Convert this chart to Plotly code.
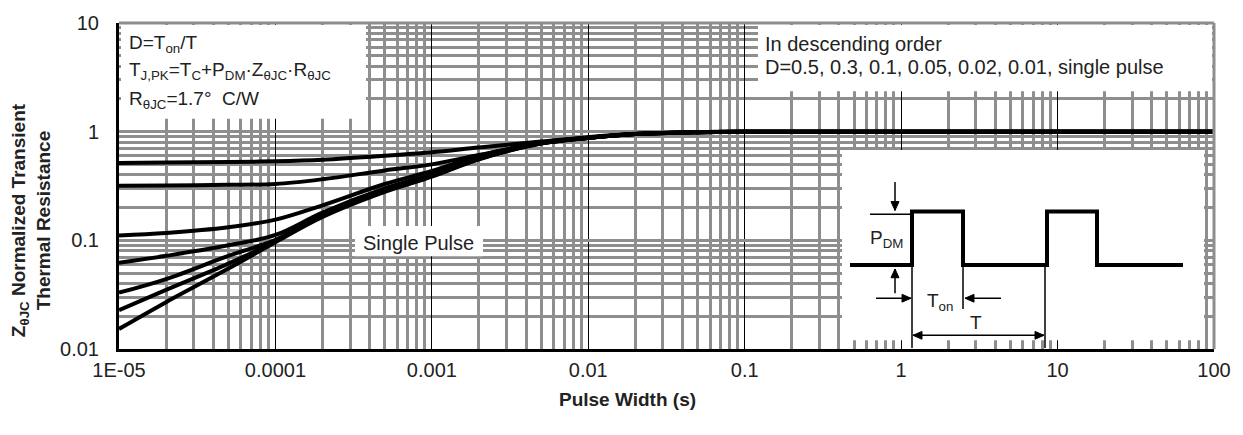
import plotly.graph_objects as go

# ---------------- data ----------------
pulse_width = [1e-5, 2e-5, 5e-5, 1e-4, 2e-4, 5e-4, 1e-3, 2e-3, 5e-3, 1e-2, 2e-2, 5e-2, 1e-1, 1, 10, 100]
z_d050 = [0.515, 0.519, 0.526, 0.534, 0.552, 0.60, 0.647, 0.715, 0.81, 0.89, 0.955, 0.99, 1.0, 1.0, 1.0, 1.0]
z_d030 = [0.318, 0.320, 0.324, 0.330, 0.365, 0.44, 0.50, 0.61, 0.78, 0.88, 0.953, 0.99, 1.0, 1.0, 1.0, 1.0]
z_d010 = [0.111, 0.117, 0.132, 0.155, 0.21, 0.33, 0.435, 0.60, 0.79, 0.88, 0.952, 0.99, 1.0, 1.0, 1.0, 1.0]
z_d005 = [0.062, 0.072, 0.090, 0.112, 0.18, 0.30, 0.405, 0.575, 0.785, 0.878, 0.951, 0.99, 1.0, 1.0, 1.0, 1.0]
z_d002 = [0.033, 0.044, 0.072, 0.101, 0.170, 0.287, 0.395, 0.565, 0.78, 0.876, 0.95, 0.99, 1.0, 1.0, 1.0, 1.0]
z_d001 = [0.0228, 0.035, 0.061, 0.098, 0.167, 0.283, 0.39, 0.56, 0.78, 0.875, 0.95, 0.99, 1.0, 1.0, 1.0, 1.0]
z_single = [0.0153, 0.027, 0.055, 0.096, 0.164, 0.279, 0.385, 0.556, 0.778, 0.874, 0.95, 0.99, 1.0, 1.0, 1.0, 1.0]
series_names = ["D=0.5", "D=0.3", "D=0.1", "D=0.05", "D=0.02", "D=0.01", "Single pulse"]

x_tickvals = [1e-5, 1e-4, 1e-3, 1e-2, 1e-1, 1, 10, 100]
x_ticktext = ["1E-05", "0.0001", "0.001", "0.01", "0.1", "1", "10", "100"]
y_tickvals = [0.01, 0.1, 1, 10]
y_ticktext = ["0.01", "0.1", "1", "10"]

# ---------------- layout geometry (pixels) ----------------
W, H = 1243, 435
L, R, T, B = 119, 1214, 15, 349


def px(x):
    return (x - L) / (R - L)


def py(y):
    return (B - y) / (B - T)


FONT = "Arial, Liberation Sans, sans-serif"
GRID = "#8e8e8e"
TXT = "#222"

x_minor = [m * 10 ** e for e in range(-5, 2) for m in range(2, 10)]
y_minor = [m * 10 ** e for e in range(-2, 1) for m in range(2, 10)]

fig = go.Figure()
for name, z in zip(series_names, [z_d050, z_d030, z_d010, z_d005, z_d002, z_d001, z_single]):
    fig.add_trace(go.Scatter(x=pulse_width, y=z, mode="lines", name=name,
                             line=dict(color="black", width=4, shape="spline", smoothing=1.0),
                             showlegend=False))

fig.update_layout(
    width=W, height=H,
    margin=dict(l=L, r=W - R, t=T, b=H - B),
    paper_bgcolor="white", plot_bgcolor="white",
    font=dict(family=FONT, color=TXT),
)
fig.update_xaxes(type="log", range=[-5, 2], tickmode="array", tickvals=x_tickvals, ticktext=x_ticktext,
                 showgrid=True, gridcolor="black", gridwidth=1,
                 minor=dict(tickmode="array", tickvals=x_minor, showgrid=True, gridcolor=GRID, gridwidth=3, ticks=""),
                 showline=True, linecolor="black", linewidth=3, zeroline=False,
                 ticks="outside", ticklen=1, tickcolor="rgba(0,0,0,0)",
                 tickfont=dict(size=20, color=TXT))
fig.update_yaxes(type="log", range=[-2, 1], tickmode="array", tickvals=y_tickvals, ticktext=y_ticktext,
                 showgrid=True, gridcolor=GRID, gridwidth=3,
                 minor=dict(tickmode="array", tickvals=y_minor, showgrid=True, gridcolor=GRID, gridwidth=3, ticks=""),
                 showline=True, linecolor="black", linewidth=3, zeroline=False,
                 ticks="outside", ticklen=13, tickcolor="rgba(0,0,0,0)",
                 tickfont=dict(size=20, color=TXT))

shapes = []
# white boxes hiding the grid (they do not overlap the curves)
for (x0, y0, x1, y1) in [(121, 17, 366, 113), (758, 17, 1212, 85), (355, 223, 483, 254), (842, 145, 1204, 340)]:
    shapes.append(dict(type="rect", xref="paper", yref="paper", x0=px(x0), x1=px(x1), y0=py(y1), y1=py(y0),
                       fillcolor="white", line=dict(width=0), layer="above"))
# top and right border
shapes.append(dict(type="line", xref="paper", yref="paper", x0=0, x1=1, y0=1, y1=1,
                   line=dict(color=GRID, width=3), layer="above"))
shapes.append(dict(type="line", xref="paper", yref="paper", x0=1, x1=1, y0=0, y1=1,
                   line=dict(color=GRID, width=3), layer="above"))

# inset pulse diagram
pulse_path = [(850, 263), (912, 263), (912, 208), (963, 208), (963, 263), (1047, 263), (1047, 208),
              (1097, 208), (1097, 263), (1183, 263)]
path = "M " + " L ".join(f"{px(a):.5f},{py(b):.5f}" for a, b in pulse_path)
shapes.append(dict(type="path", xref="paper", yref="paper", path=path,
                   line=dict(color="black", width=4), layer="above"))
for (x0, y0, x1, y1) in [(912, 263, 912, 348), (963, 265, 963, 308), (1045, 263, 1045, 348),
                         (870, 211, 912, 211)]:
    shapes.append(dict(type="line", xref="paper", yref="paper", x0=px(x0), x1=px(x1), y0=py(y0), y1=py(y1),
                       line=dict(color="black", width=1.5), layer="above"))


def arrow(hx, hy, tx, ty, both=False):
    """Arrow drawn with shapes: a shaft plus filled triangular head(s), pixel geometry."""
    shapes.append(dict(type="line", xref="paper", yref="paper", x0=px(tx), x1=px(hx), y0=py(ty), y1=py(hy),
                       line=dict(color="black", width=1.5), layer="above"))
    ends = [(hx, hy, tx, ty)] + ([(tx, ty, hx, hy)] if both else [])
    for (ex, ey, sx, sy) in ends:
        dx, dy = ex - sx, ey - sy
        n = (dx * dx + dy * dy) ** 0.5
        ux, uy = dx / n, dy / n
        bx, by = ex - 9 * ux, ey - 9 * uy
        p1 = (bx + 4 * uy, by - 4 * ux)
        p2 = (bx - 4 * uy, by + 4 * ux)
        tri = f"M {px(ex):.5f},{py(ey):.5f} L {px(p1[0]):.5f},{py(p1[1]):.5f} L {px(p2[0]):.5f},{py(p2[1]):.5f} Z"
        shapes.append(dict(type="path", xref="paper", yref="paper", path=tri, fillcolor="black",
                           line=dict(color="black", width=1), layer="above"))


arrow(895, 207, 895, 178)
arrow(895, 267, 895, 292)
arrow(911, 297, 876, 297)
arrow(965, 297, 1001, 297)
arrow(1044, 335, 913, 335, both=True)
fig.update_layout(shapes=shapes)

ann = []


def text(xp, yp, s, size=19, xanchor="left", bold=False):
    ann.append(dict(xref="paper", yref="paper", x=px(xp), y=py(yp), text=(f"<b>{s}</b>" if bold else s),
                    showarrow=False, xanchor=xanchor, yanchor="middle",
                    font=dict(family=FONT, size=size, color=TXT)))


text(127, 37, "D=T<sub>on</sub>/T")
text(127, 64, "T<sub>J,PK</sub>=T<sub>C</sub>+P<sub>DM</sub>·Z<sub>θJC</sub>·R<sub>θJC</sub>")
text(127, 94, "R<sub>θJC</sub>=1.7°  C/W")
text(763, 37, "In descending order", size=20)
text(763, 60, "D=0.5, 0.3, 0.1, 0.05, 0.02, 0.01, single pulse", size=20)
text(361, 240, "Single Pulse", size=20)
text(868, 236, "P<sub>DM</sub>", size=19)
text(925, 301, "T<sub>on</sub>", size=19)
text(968, 322, "T", size=19)
# axis titles
text(627, 401, "Pulse Width (s)", size=19, xanchor="center", bold=True)
ann.append(dict(xref="paper", yref="paper", x=px(31), y=py(217),
                text="<b>Z<sub>θJC</sub> Normalized Transient<br>Thermal Resistance</b>",
                showarrow=False, xanchor="center", yanchor="middle", textangle=-90,
                font=dict(family=FONT, size=19, color=TXT)))

fig.update_layout(annotations=ann)
fig.write_html("out.html")
